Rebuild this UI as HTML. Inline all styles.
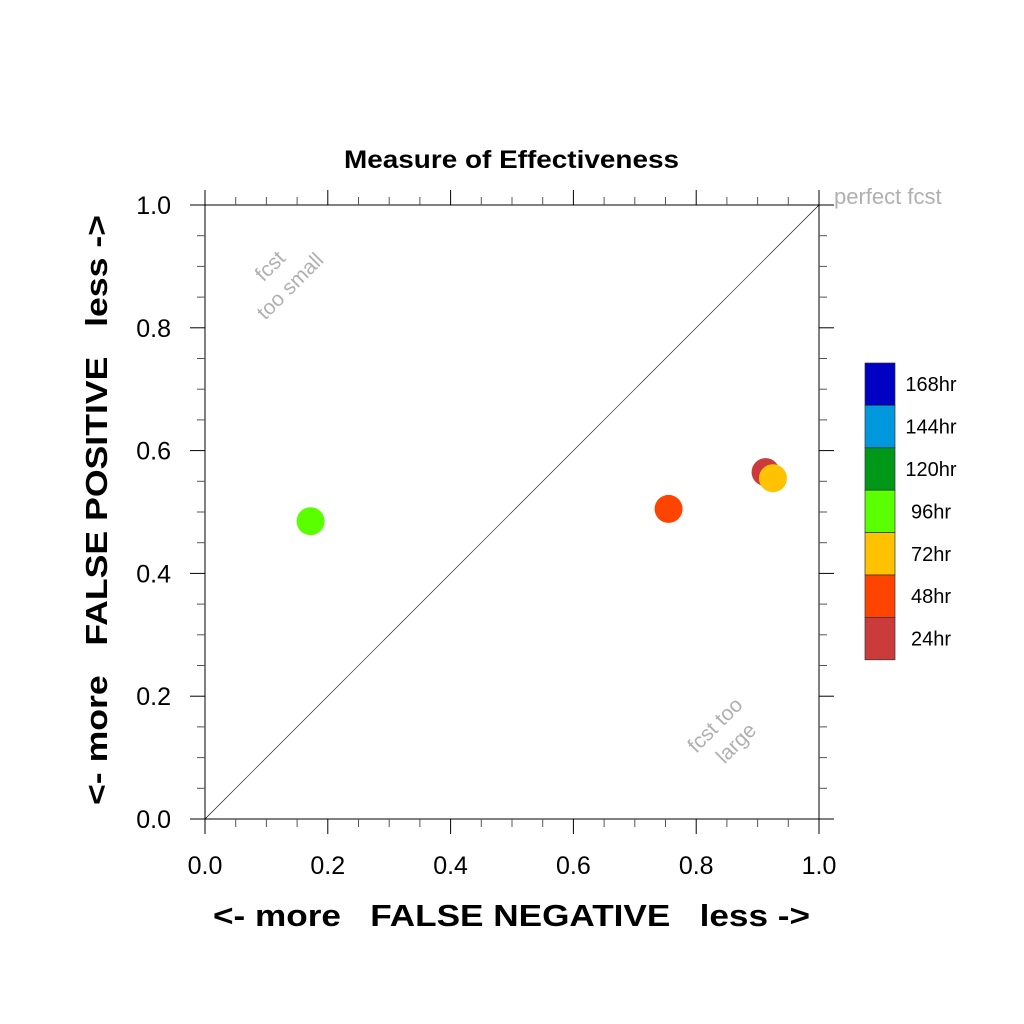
<!DOCTYPE html>
<html><head><meta charset="utf-8"><style>body{margin:0;background:#fff}svg{display:block}text{font-family:"Liberation Sans",sans-serif;white-space:pre}</style></head>
<body>
<svg id="c" width="1024" height="1024"></svg>
<script>
const labels=["24hr","48hr","72hr","96hr"];
const xVals=[0.913,0.755,0.925,0.172];
const yVals=[0.565,0.505,0.555,0.485];
const pointColors=["#cc3b3b","#ff4400","#ffc200","#5aff00"];
const legendLabels=["168hr","144hr","120hr","96hr","72hr","48hr","24hr"];
const legendColors=["#0000c4","#0098dc","#009818","#5aff00","#ffc200","#ff4400","#cc3b3b"];
const tickLabels=["0.0","0.2","0.4","0.6","0.8","1.0"];
const NS="http://www.w3.org/2000/svg",svg=document.getElementById('c');
const L=205,R=819,T=205,B=819;
const sx=v=>L+v*(R-L), sy=v=>B-v*(B-T);
function mk(t,a,txt){const e=document.createElementNS(NS,t);for(const k in a)e.setAttribute(k,a[k]);if(txt!=null)e.textContent=txt;svg.appendChild(e);return e;}
let e=mk('rect',{x:L,y:T,width:R-L,height:B-T,fill:'none',stroke:'#000','stroke-width':1});

e=mk('line',{x1:sx(0),y1:sy(0),x2:sx(1),y2:sy(1),stroke:'#000','stroke-width':0.6});

for(let i=0;i<=20;i++){const v=i/20,maj=i%4==0,len=maj?15:8,c=maj?'#000':'#555';
 mk('line',{x1:sx(v),y1:B,x2:sx(v),y2:B+len,stroke:c});
 mk('line',{x1:sx(v),y1:T,x2:sx(v),y2:T-len,stroke:c});
 mk('line',{x1:L,y1:sy(v),x2:L-len,y2:sy(v),stroke:c});
 mk('line',{x1:R,y1:sy(v),x2:R+len,y2:sy(v),stroke:c});}
tickLabels.forEach((t,i)=>{const v=i*0.2;
 e=mk('text',{x:sx(v),y:874,'font-size':25,'text-anchor':'middle'},t);
 
 e=mk('text',{x:171,y:sy(v)+9,'font-size':25,'text-anchor':'end'},t);
 });
e=mk('text',{x:344,y:168,'font-size':25,'font-weight':'bold',textLength:335,lengthAdjust:'spacingAndGlyphs'},'Measure of Effectiveness');

e=mk('text',{x:213,y:926,'font-size':31,'font-weight':'bold',textLength:597,lengthAdjust:'spacingAndGlyphs'},'<- more   FALSE NEGATIVE   less ->');

e=mk('text',{x:0,y:0,'font-size':31,'font-weight':'bold',textLength:590,lengthAdjust:'spacingAndGlyphs',transform:'translate(107,805) rotate(-90)'},'<- more   FALSE POSITIVE   less ->');

e=mk('text',{x:834,y:204,'font-size':22,fill:'#b0b0b0'},'perfect fcst');

e=mk('text',{x:0,y:0,'font-size':21,fill:'#b0b0b0','text-anchor':'middle',transform:'translate(275,271) rotate(-45)'},'fcst');

e=mk('text',{x:0,y:0,'font-size':21,fill:'#b0b0b0','text-anchor':'middle',transform:'translate(295,291) rotate(-45)'},'too small');

e=mk('text',{x:0,y:0,'font-size':21,fill:'#b0b0b0','text-anchor':'middle',transform:'translate(720,730) rotate(-45)'},'fcst too');

e=mk('text',{x:0,y:0,'font-size':21,fill:'#b0b0b0','text-anchor':'middle',transform:'translate(741,748) rotate(-45)'},'large');

labels.forEach((l,i)=>{e=mk('circle',{cx:sx(xVals[i]),cy:sy(yVals[i]),r:14,fill:pointColors[i]});
 });
const lh=42.4;
legendLabels.forEach((l,i)=>{const y=363+i*lh;
 e=mk('rect',{x:865,y:y,width:30,height:lh,fill:legendColors[i],stroke:'#333','stroke-width':0.7});
 
 e=mk('text',{x:931,y:y+lh/2+7,'font-size':20,'text-anchor':'middle'},l);
 });
</script>
</body></html>
